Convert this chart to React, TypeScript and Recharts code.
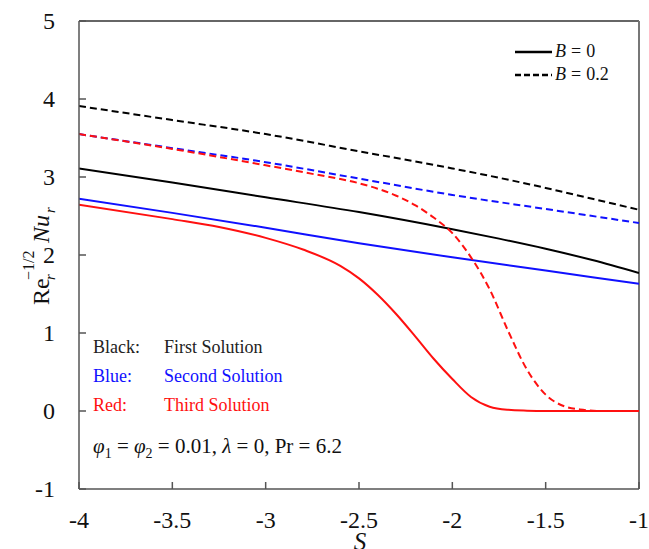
import { Line, LineChart, ReferenceLine, XAxis, YAxis } from 'recharts';

// S ticks and value ticks
const sTicks = [-4, -3.5, -3, -2.5, -2, -1.5, -1];
const yTicks = [-1, 0, 1, 2, 3, 4, 5];

// first solution (black)
const sFirst = [-4, -3.5, -3, -2.5, -2, -1.75, -1.5, -1.25, -1];
const firstB0 = [3.11, 2.93, 2.74, 2.55, 2.33, 2.21, 2.08, 1.935, 1.77];
const firstB02 = [3.91, 3.73, 3.55, 3.33, 3.11, 2.99, 2.86, 2.72, 2.58];

// second solution (blue)
const sSecond = [-4, -3.5, -3, -2.5, -2, -1.5, -1];
const secondB0 = [2.72, 2.54, 2.35, 2.15, 1.97, 1.8, 1.63];
const secondB02 = [3.55, 3.37, 3.19, 2.98, 2.77, 2.59, 2.41];

// third solution (red)
const sThirdB0 = [-4, -3.5, -3.25, -3, -2.8, -2.6, -2.5, -2.4, -2.3, -2.2, -2.1, -2, -1.9, -1.8, -1.7, -1.6, -1.5, -1.25, -1];
const thirdB0 = [2.645, 2.46, 2.36, 2.22, 2.07, 1.86, 1.7, 1.49, 1.24, 0.96, 0.67, 0.41, 0.18, 0.055, 0.015, 0.004, 0, 0, 0];
const sThirdB02 = [-4, -3.5, -3, -2.75, -2.5, -2.4, -2.3, -2.2, -2.1, -2, -1.9, -1.8, -1.7, -1.6, -1.5, -1.4, -1.3, -1.2, -1];
const thirdB02 = [3.55, 3.36, 3.15, 3.04, 2.92, 2.85, 2.76, 2.64, 2.48, 2.28, 1.97, 1.56, 1.02, 0.53, 0.21, 0.06, 0.015, 0, 0];

const serif = '"Liberation Serif", "Times New Roman", serif';
const BLUE = '#1010ff';
const RED = '#ff1010';

const pts = (xs: number[], ys: number[]) => xs.map((s, i) => ({ s, v: ys[i] }));

const series = [
  { name: 'first B=0', data: pts(sFirst, firstB0), color: '#000', dash: undefined },
  { name: 'first B=0.2', data: pts(sFirst, firstB02), color: '#000', dash: '7 4' },
  { name: 'second B=0', data: pts(sSecond, secondB0), color: BLUE, dash: undefined },
  { name: 'second B=0.2', data: pts(sSecond, secondB02), color: BLUE, dash: '7 4' },
  { name: 'third B=0', data: pts(sThirdB0, thirdB0), color: RED, dash: undefined },
  { name: 'third B=0.2', data: pts(sThirdB02, thirdB02), color: RED, dash: '7 4' },
];

function XTick(props: any) {
  const { x, y, payload } = props;
  return (
    <text x={x} y={y + 17} textAnchor="middle" fontSize={24} fontFamily={serif} fill="#111">
      {String(payload.value)}
    </text>
  );
}

function YTick(props: any) {
  const { x, y, payload } = props;
  return (
    <text x={x} y={y + 8} textAnchor="end" fontSize={24} fontFamily={serif} fill="#111">
      {String(payload.value)}
    </text>
  );
}

function Overlay() {
  return (
    <svg
      width={649}
      height={549}
      style={{ position: 'absolute', left: 0, top: 0, pointerEvents: 'none' }}
      fontFamily={serif}
    >
      {/* legend */}
      <line x1={515} x2={552} y1={52} y2={52} stroke="#000" strokeWidth={2.5} />
      <line x1={515} x2={552} y1={75} y2={75} stroke="#000" strokeWidth={2.5} strokeDasharray="6 3" />
      <text x={555} y={57} fontSize={18} fill="#111">
        <tspan fontStyle="italic">B</tspan>
        <tspan dx={5}>=</tspan>
        <tspan dx={5}>0</tspan>
      </text>
      <text x={555} y={80} fontSize={18} fill="#111">
        <tspan fontStyle="italic">B</tspan>
        <tspan dx={5}>=</tspan>
        <tspan dx={5}>0.2</tspan>
      </text>

      {/* colour key */}
      <text x={93} y={353} fontSize={18} fill="#222">Black:</text>
      <text x={164} y={353} fontSize={18} fill="#222">First Solution</text>
      <text x={93} y={382} fontSize={18} fill={BLUE}>Blue:</text>
      <text x={164} y={382} fontSize={18} fill={BLUE}>Second Solution</text>
      <text x={93} y={411} fontSize={18} fill={RED}>Red:</text>
      <text x={164} y={411} fontSize={18} fill={RED}>Third Solution</text>

      {/* parameters */}
      <text x={93} y={453} fontSize={21} fill="#111">
        <tspan fontStyle="italic">φ</tspan>
        <tspan fontSize={14} dy={5}>1</tspan>
        <tspan dy={-5}> = </tspan>
        <tspan fontStyle="italic">φ</tspan>
        <tspan fontSize={14} dy={5}>2</tspan>
        <tspan dy={-5}> = 0.01, </tspan>
        <tspan fontStyle="italic">λ</tspan>
        <tspan> = 0, Pr = 6.2</tspan>
      </text>

      {/* axis titles */}
      <text x={360} y={550} fontSize={25} fontStyle="italic" textAnchor="middle" fill="#111">S</text>
      <g transform="translate(49,305) rotate(-90)" fill="#111">
        <text x={0} y={0} fontSize={24}>Re</text>
        <text x={25} y={6} fontSize={15} fontStyle="italic">r</text>
        <text x={25} y={-15} fontSize={16}>−1/2</text>
        <text x={62} y={0} fontSize={24} fontStyle="italic">Nu</text>
        <text x={92} y={6} fontSize={15} fontStyle="italic">r</text>
      </g>
    </svg>
  );
}

export default function App() {
  return (
    <div style={{ position: 'absolute', left: 0, top: 0, width: 649, height: 549, background: '#fff', overflow: 'hidden' }}>
      <LineChart width={649} height={549} margin={{ top: 21, right: 10, bottom: 0, left: 0 }}>
        <XAxis
          type="number"
          dataKey="s"
          domain={[-4, -1]}
          ticks={sTicks}
          interval={0}
          allowDataOverflow
          height={60}
          stroke="#555"
          strokeWidth={1.5}
          tickSize={-7}
          tickMargin={29}
          tick={<XTick />}
        />
        <YAxis
          type="number"
          dataKey="v"
          domain={[-1, 5]}
          ticks={yTicks}
          interval={0}
          allowDataOverflow
          width={79}
          stroke="#555"
          strokeWidth={1.5}
          tickSize={-7}
          tickMargin={31}
          tick={<YTick />}
        />
        <ReferenceLine y={5} stroke="#333" strokeWidth={1.5} />
        <ReferenceLine x={-1} stroke="#777" strokeWidth={2} />
        {series.map((s) => (
          <Line
            key={s.name}
            data={s.data}
            dataKey="v"
            type="monotone"
            stroke={s.color}
            strokeWidth={2}
            strokeDasharray={s.dash}
            dot={false}
            activeDot={false}
            isAnimationActive={false}
          />
        ))}
      </LineChart>
      <Overlay />
    </div>
  );
}
